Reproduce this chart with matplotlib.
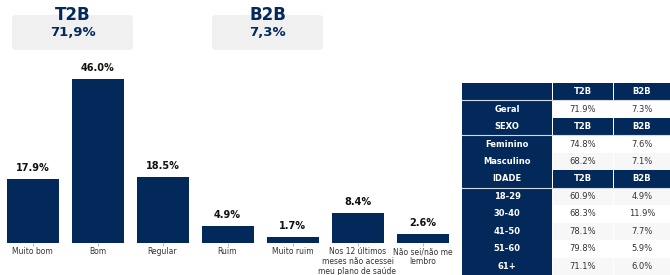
import matplotlib.pyplot as plt
from matplotlib.patches import FancyBboxPatch, Rectangle

categories = ["Muito bom", "Bom", "Regular", "Ruim", "Muito ruim",
              "Nos 12 últimos\nmeses não acessei\nmeu plano de saúde",
              "Não sei/não me\nlembro"]
values = [17.9, 46.0, 18.5, 4.9, 1.7, 8.4, 2.6]

summary_labels = ["T2B", "B2B"]
summary_values = ["71,9%", "7,3%"]

# table rows
row_labels = ["", "Geral", "SEXO", "Feminino", "Masculino", "IDADE",
              "18-29", "30-40", "41-50", "51-60", "61+"]
row_t2b = ["T2B", "71.9%", "T2B", "74.8%", "68.2%", "T2B",
           "60.9%", "68.3%", "78.1%", "79.8%", "71.1%"]
row_b2b = ["B2B", "7.3%", "B2B", "7.6%", "7.1%", "B2B",
           "4.9%", "11.9%", "7.7%", "5.9%", "6.0%"]
header_rows = [0, 2, 5]

navy = "#03295a"
W, H = 670, 275

fig = plt.figure(figsize=(6.7, 2.75), dpi=100)

# bar chart
ax = fig.add_axes([0 / W, (H - 243) / H, 455 / W, 183 / H])
x = range(len(values))
ax.bar(x, values, width=0.8, color=navy)
for i, v in enumerate(values):
    ax.text(i, v + 1.6, f"{v:.1f}%", ha="center", va="bottom",
            fontsize=7, fontweight="bold", color="#111111")
ax.set_xlim(-0.5, len(values) - 0.5)
ax.set_ylim(0, 183 / 3.57)
ax.set_xticks(list(x))
ax.set_xticklabels(categories, fontsize=5.5, color="#333333", linespacing=1.1)
ax.tick_params(axis="x", length=2, width=0.5, color="#999999", pad=1)
ax.set_yticks([])
for s in ax.spines.values():
    s.set_visible(False)

# summary boxes
ov = fig.add_axes([0, 0, 1, 1])
ov.set_xlim(0, W)
ov.set_ylim(H, 0)
ov.axis("off")
boxes = [(12, 133), (212, 323)]
for (x0, x1), lab, val in zip(boxes, summary_labels, summary_values):
    ov.add_patch(FancyBboxPatch((x0 + 4, 19), x1 - x0 - 8, 27,
                                boxstyle="round,pad=4", fc="#f0f0f0", ec="none"))
    cx = (x0 + x1) / 2
    ov.text(cx, 15, lab, ha="center", va="center", fontsize=12,
            fontweight="bold", color=navy)
    ov.text(cx, 32, val, ha="center", va="center", fontsize=9.5,
            fontweight="bold", color=navy)

# table
cols = [(462, 552), (553, 613), (614, 670)]
top = 83
rh = (275 - top) / len(row_labels)
for r in range(len(row_labels)):
    y0 = top + r * rh
    texts = [row_labels[r], row_t2b[r], row_b2b[r]]
    for c, (cx0, cx1) in enumerate(cols):
        dark = c == 0 or r in header_rows
        if dark:
            fc = navy
        else:
            fc = "#f7f7f7" if r % 2 == 0 else "white"
        ov.add_patch(Rectangle((cx0, y0), cx1 - cx0, rh, fc=fc, ec="none"))
        ov.text((cx0 + cx1) / 2, y0 + rh / 2, texts[c], ha="center",
                va="center", fontsize=6,
                fontweight="bold" if dark else "normal",
                color="white" if dark else "#333333")
    if r in header_rows:
        ov.plot([cols[0][0], cols[-1][1]], [y0 + rh, y0 + rh],
                color="#d5dbe3", lw=0.8)

fig.savefig("out.png", dpi=100)
